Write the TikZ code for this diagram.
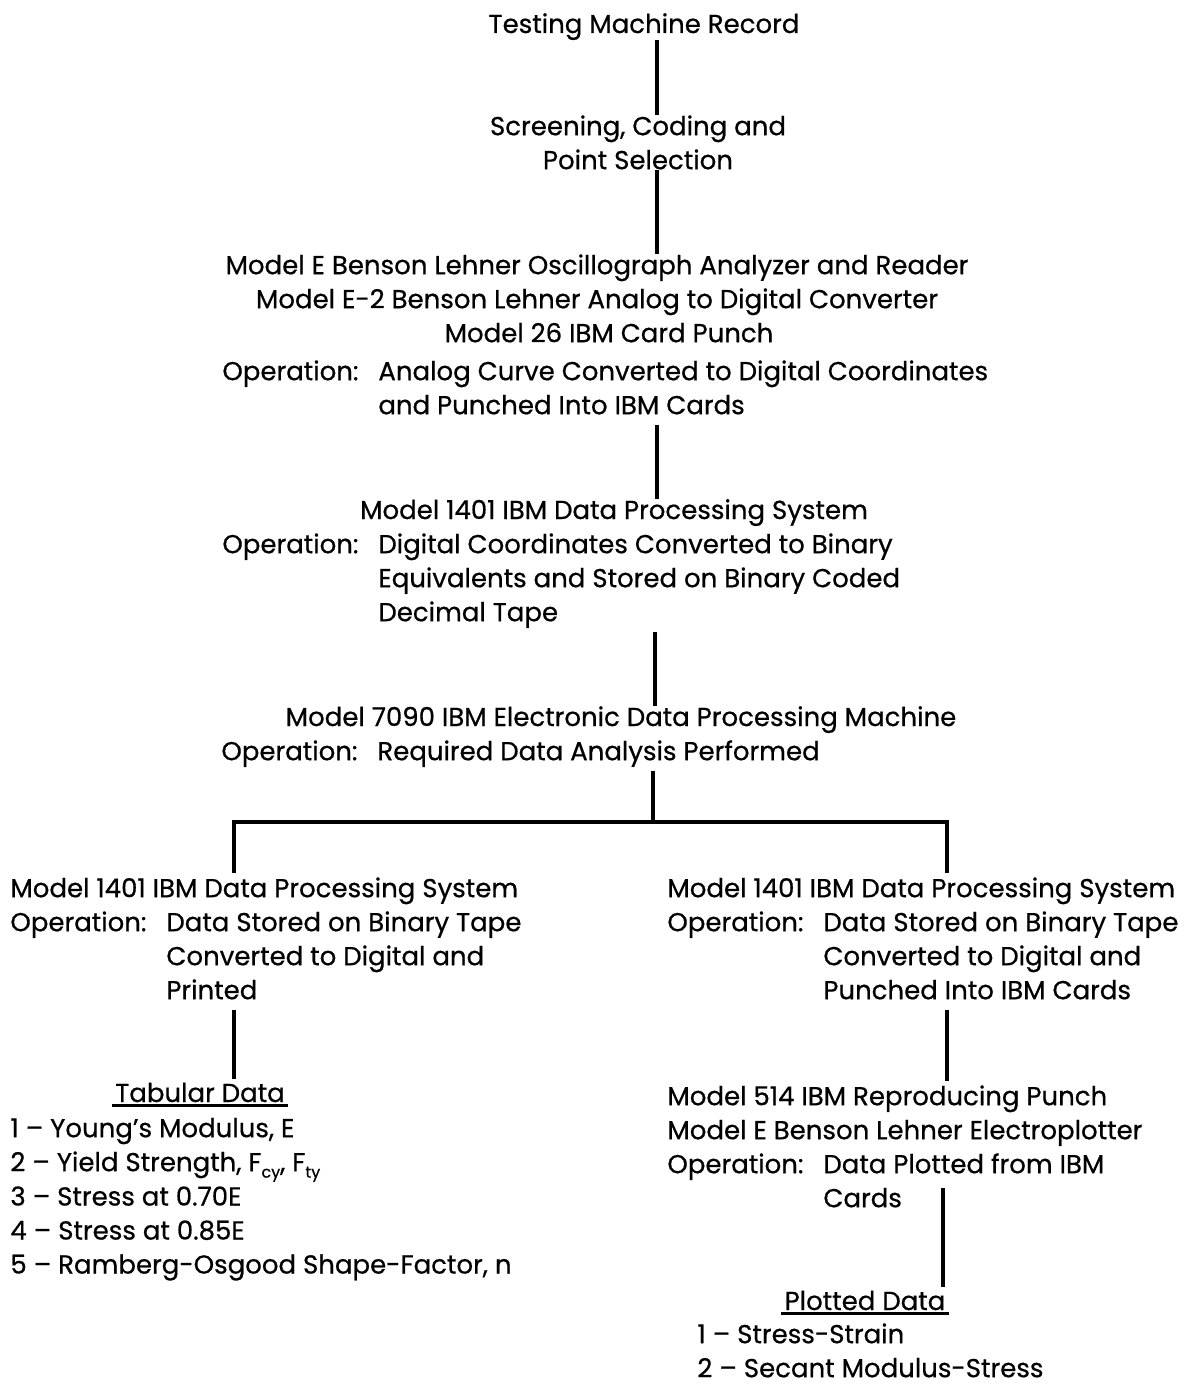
\documentclass[tikz,border=0pt]{standalone}
\usepackage{fontspec}
\setmainfont{Poppins}[FakeBold=0.6]
\usepackage{array}
\newcommand{\sbs}[1]{\raisebox{-.45ex}{\footnotesize #1}}
\newcommand{\opline}[1]{\begin{tabular}{@{}p{78pt}@{}l@{}}#1\end{tabular}}

\begin{document}
\begin{tikzpicture}[x=0.5pt,y=-0.5pt,
    txt/.style={inner sep=0pt,font=\fontsize{13}{17}\selectfont},
    link/.style={line width=2pt}]
  \useasboundingbox (0,0) rectangle (1184,1386);
  % upper chain
  \node[txt,anchor=base] (rec) at (644,33) {Testing Machine Record};
  \node[txt,anchor=north,align=center] (scr) at (638,115) {Screening, Coding and\\Point Selection};
  \node[txt,anchor=north,align=center] (ana) at (597,254) {Model E Benson Lehner Oscillograph Analyzer and Reader\\
    Model E-2 Benson Lehner Analog to Digital Converter\\\hspace*{12pt}Model 26 IBM Card Punch};
  \node[txt,anchor=north west] (anaop) at (222,356) {\opline{Operation: & Analog Curve Converted to Digital Coordinates\\
    & and Punched Into IBM Cards}};
  \node[txt,anchor=base] (pr1) at (614,519) {Model 1401 IBM Data Processing System};
  \node[txt,anchor=north west] (pr1op) at (222,529) {\opline{Operation: & Digital Coordinates Converted to Binary\\
    & Equivalents and Stored on Binary Coded\\ & Decimal Tape}};
  \node[txt,anchor=base] (edp) at (621,726) {Model 7090 IBM Electronic Data Processing Machine};
  \node[txt,anchor=north west] (edpop) at (221,736) {\opline{Operation: & Required Data Analysis Performed}};
  % left branch
  \node[txt,anchor=north west] (prl) at (10,873) {\opline{\multicolumn{2}{@{}l@{}}{Model 1401 IBM Data Processing System}\\
    Operation: & Data Stored on Binary Tape\\ & Converted to Digital and\\ & Printed}};
  \node[txt,anchor=base,inner sep=1.5pt] (tab) at (200,1102) {Tabular Data};
  \node[txt,anchor=north west] (tabl) at (10,1113) {\begin{tabular}{@{}l@{}}
    1 -- Young's Modulus, E\\
    2 -- Yield Strength, F\sbs{cy}, F\sbs{ty}\\
    3 -- Stress at 0.70E\\
    4 -- Stress at 0.85E\\
    5 -- Ramberg-Osgood Shape-Factor, n\end{tabular}};
  % right branch
  \node[txt,anchor=north west] (prr) at (667,873) {\opline{\multicolumn{2}{@{}l@{}}{Model 1401 IBM Data Processing System}\\
    Operation: & Data Stored on Binary Tape\\ & Converted to Digital and\\ & Punched Into IBM Cards}};
  \node[txt,anchor=north west] (plt) at (667,1081) {\opline{\multicolumn{2}{@{}l@{}}{Model 514 IBM Reproducing Punch}\\
    \multicolumn{2}{@{}l@{}}{Model E Benson Lehner Electroplotter}\\
    Operation: & Data Plotted from IBM\\ & Cards}};
  \node[txt,anchor=base,inner sep=1.5pt] (pd) at (865,1310) {Plotted Data};
  \node[txt,anchor=north west] (pdl) at (697,1319) {\begin{tabular}{@{}l@{}}
    1 -- Stress-Strain\\
    2 -- Secant Modulus-Stress\end{tabular}};
  % connectors
  \coordinate (c1) at (657,0);
  \coordinate (c4) at (655,0);
  \coordinate (busM) at (653,822);
  \coordinate (busL) at (234,822);
  \coordinate (busR) at (947,822);
  \coordinate (c8) at (943,0);
  \path (plt.south -| c8) ++(0,-30) coordinate (c8top);
  \draw[link] (rec.south -| c1) -- (scr.north -| c1);
  \draw[link] (scr.south -| c1) -- (ana.north -| c1);
  \draw[link] (anaop.south -| c1) -- (pr1.north -| c1);
  \draw[link] (pr1op.south -| c4) -- (edp.north -| c4);
  \draw[link] (edpop.south -| busM) -- (busM);
  \draw[link] (prl.north -| busL) -- (busL) -- (busR) -- (prr.north -| busR);
  \draw[link] (prl.south -| busL) -- (tab.north -| busL);
  \draw[link] (prr.south -| busR) -- (plt.north -| busR);
  \draw[link] (c8top) -- (pd.north -| c8);
  \draw[line width=1.2pt] (tab.south west) -- (tab.south east);
  \draw[line width=1.2pt] (pd.south west) -- (pd.south east);
\end{tikzpicture}
\end{document}
